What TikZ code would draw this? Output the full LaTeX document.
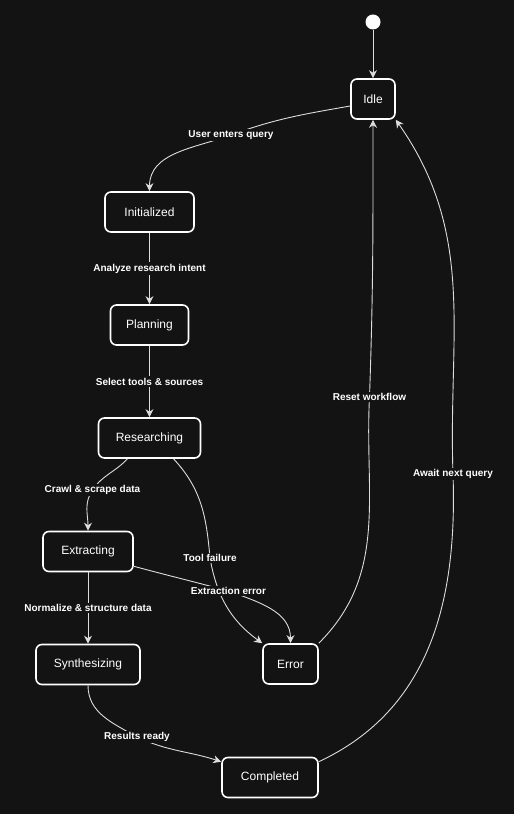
\documentclass[tikz,border=0pt]{standalone}
\usepackage{fontspec}
\setmainfont{Liberation Sans}
\usetikzlibrary{arrows.meta}
\definecolor{canvas}{HTML}{131313}
\definecolor{linegray}{HTML}{DDDDDD}

\begin{document}
\begin{tikzpicture}[x=1pt,y=1pt]
\tikzstyle{statebox} = [rectangle, rounded corners=6pt, draw=white, line width=1.6pt, fill=canvas, text=white, font=\fontsize{12}{14}\selectfont, minimum height=40pt, inner xsep=0pt]
\tikzstyle{startdot} = [circle, fill=white, minimum size=15pt, inner sep=0pt]
\tikzstyle{edgelabel} = [fill=canvas, text=white, font=\bfseries\fontsize{10}{12}\selectfont, inner sep=1.5pt]
\tikzstyle{transition} = [draw=linegray, line width=0.9pt, -{Stealth[length=8pt,width=8pt,inset=2.5pt]}]

\fill[canvas] (0,0) rectangle (514,814);
\useasboundingbox (0,0) rectangle (514,814);

\node(startDot) [startdot] at (373,792) {};
\node(idleState) [statebox, minimum width=44pt] at (373,715) {Idle};
\node(initializedState) [statebox, minimum width=89pt] at (149.5,602) {Initialized};
\node(planningState) [statebox, minimum width=78pt] at (149.5,489) {Planning};
\node(researchingState) [statebox, minimum width=102pt] at (149.5,376) {Researching};
\node(extractingState) [statebox, minimum width=90pt] at (88,262.5) {Extracting};
\node(synthesizingState) [statebox, minimum width=104pt] at (88,149.5) {Synthesizing};
\node(errorState) [statebox, minimum width=55pt] at (290.5,150) {Error};
\node(completedState) [statebox, minimum width=96pt] at (270,36.5) {Completed};

\draw[transition] (startDot) -- (idleState);
\draw[transition] ([yshift=-7pt]idleState.west) to[out=190,in=20] (231,679)
  node[edgelabel] {User enters query} to[out=200,in=90] (initializedState.north);
\draw[transition] (initializedState) -- node[edgelabel] {Analyze research intent} (planningState);
\draw[transition] (planningState) -- node[edgelabel] {Select tools \& sources} (researchingState);
\draw[transition] ([xshift=-22pt]researchingState.south) to[out=227,in=56] (92.5,324)
  node[edgelabel] {Crawl \& scrape data} to[out=236,in=90] (extractingState.north);
\draw[transition] ([xshift=24pt]researchingState.south) to[out=-47,in=95] (210,256)
  node[edgelabel] {Tool failure} to[out=-80,in=144] (errorState.north west);
\draw[transition] ([yshift=6pt]extractingState.south east) to[out=-15,in=165] (228.5,223)
  node[edgelabel] {Extraction error} to[out=-20,in=90] (errorState.north);
\draw[transition] (extractingState) -- node[edgelabel] {Normalize \& structure data} (synthesizingState);
\draw[transition] (synthesizingState.south) to[out=-90,in=150] (137,77)
  node[edgelabel] {Results ready} to[out=-25,in=162] ([yshift=-5pt]completedState.north west);
\draw[transition] (errorState.north east) to[out=45,in=-93] (369.5,417)
  node[edgelabel] {Reset workflow} to[out=88,in=-90] (idleState.south);
\draw[transition] ([yshift=-5pt]completedState.north east) to[out=25,in=-88] (453,340)
  node[edgelabel] {Await next query} to[out=92,in=-55] (idleState.south east);
\end{tikzpicture}
\end{document}
